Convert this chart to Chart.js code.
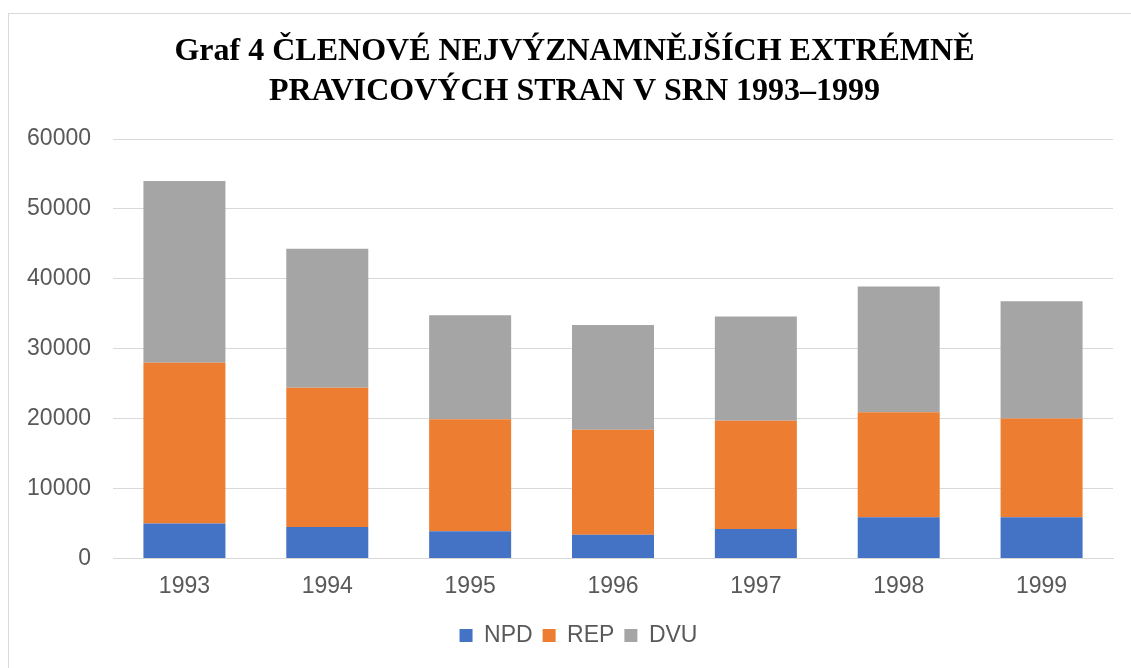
<!DOCTYPE html>
<html>
<head>
<meta charset="utf-8">
<script src="https://cdn.jsdelivr.net/npm/chart.js@4"></script>
<style>
  html, body { margin: 0; padding: 0; background: #fff; }
  body { width: 1131px; height: 668px; position: relative; overflow: hidden; }
  #frame { position: absolute; left: 8px; top: 13px; width: 1140px; height: 670px; border: 1px solid #d9d9d9; box-sizing: border-box; }
  #wrap { position: absolute; left: 0; top: 0; width: 1131px; height: 668px; }
</style>
</head>
<body>
<div id="frame"></div>
<div id="wrap"><canvas id="chart"></canvas></div>
<script>
// values (members per party)
const years = ['1993', '1994', '1995', '1996', '1997', '1998', '1999'];
const npd = [5000, 4500, 3900, 3400, 4200, 5900, 5900];
const rep = [23000, 19900, 16000, 15000, 15500, 15000, 14100];
const dvu = [26000, 19900, 14900, 15000, 14900, 18000, 16800];

const COLORS = {
  npd: '#4472c4',
  rep: '#ed7d31',
  dvu: '#a5a5a5',
  grid: '#d9d9d9',
  text: '#595959',
};

Chart.defaults.font.family = 'Arial, "Liberation Sans", sans-serif';
Chart.defaults.color = COLORS.text;

function bar(label, data, color) {
  return {
    label: label,
    data: data,
    backgroundColor: color,
    borderWidth: 0,
    categoryPercentage: 1,
    barPercentage: 0.574,
  };
}

// Excel centres title and legend on the whole frame, a bit right of Chart.js
const centreShift = {
  id: 'centreShift',
  afterLayout(chart) {
    if (chart.legend) {
      chart.legend.left += 22;
      chart.legend.right += 22;
    }
    if (chart.titleBlock) {
      chart.titleBlock.left += 18;
      chart.titleBlock.right += 18;
    }
  },
};

new Chart(document.getElementById('chart'), {
  type: 'bar',
  data: {
    labels: years,
    datasets: [
      bar('NPD', npd, COLORS.npd),
      bar('REP', rep, COLORS.rep),
      bar('DVU', dvu, COLORS.dvu),
    ],
  },
  plugins: [centreShift],
  options: {
    responsive: true,
    maintainAspectRatio: false,
    animation: false,
    layout: { padding: { left: 0, right: 18, top: 0, bottom: 11 } },
    plugins: {
      title: {
        display: true,
        text: ['Graf 4 ČLENOVÉ NEJVÝZNAMNĚJŠÍCH EXTRÉMNĚ', 'PRAVICOVÝCH STRAN V SRN 1993–1999'],
        color: '#000',
        font: { family: '"Liberation Serif", "Times New Roman", serif', size: 32, weight: 'bold', lineHeight: 1.25 },
        padding: { top: 32, bottom: 27 },
      },
      legend: {
        position: 'bottom',
        labels: {
          boxWidth: 13,
          boxHeight: 13,
          padding: 10,
          font: { size: 23 },
          color: COLORS.text,
        },
      },
      tooltip: { enabled: false },
    },
    scales: {
      x: {
        stacked: true,
        grid: { display: false, drawTicks: false },
        border: { color: COLORS.grid, width: 1 },
        ticks: { font: { size: 23 }, padding: 14 },
      },
      y: {
        stacked: true,
        min: 0,
        max: 60000,
        grid: { color: COLORS.grid, lineWidth: 1, drawTicks: false },
        border: { display: false },
        ticks: {
          stepSize: 10000,
          font: { size: 23 },
          padding: 22,
          callback: (v) => String(v),
        },
        afterFit: (scale) => { scale.width = 113; },
      },
    },
  },
});
</script>
</body>
</html>
